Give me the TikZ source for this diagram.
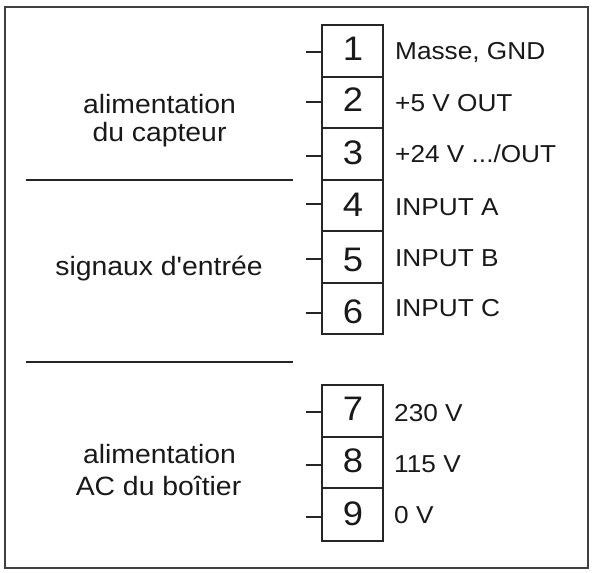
\documentclass[tikz,border=0pt]{standalone}
\usepackage{fontspec}
\newfontfamily\lab[FakeStretch=1.07]{Liberation Sans}
\begin{document}
\begin{tikzpicture}[x=1pt,y=-1pt,
  ln/.style={line width=2pt,draw=black!85},
  term/.style={ln,rectangle,minimum width=61pt,inner sep=0pt},
  num/.style={anchor=base,inner sep=0pt,font=\lab\fontsize{34}{36}\selectfont,text=black!90},
  pinlab/.style={anchor=base west,inner sep=0pt,font=\lab\fontsize{24.5}{28}\selectfont,text=black!90},
  grp/.style={anchor=base,inner sep=0pt,font=\lab\fontsize{26.5}{30}\selectfont,text=black!90}]
\useasboundingbox (0,0) rectangle (592,573);
% frame
\draw[line width=2pt,draw=black!75] (5,7) rectangle (588,568);
% terminal boxes
\node[term,minimum height=52pt] (t1) at (352.5,51) {};
\node[term,minimum height=51pt] (t2) at (352.5,102.5) {};
\node[term,minimum height=52pt] (t3) at (352.5,154) {};
\node[term,minimum height=51pt] (t4) at (352.5,205.5) {};
\node[term,minimum height=52pt] (t5) at (352.5,257) {};
\node[term,minimum height=51pt] (t6) at (352.5,308.5) {};
\node[term,minimum height=52pt] (t7) at (352.5,411) {};
\node[term,minimum height=51pt] (t8) at (352.5,462.5) {};
\node[term,minimum height=53pt] (t9) at (352.5,514.5) {};
% ticks
\draw[ln] ([yshift=-1pt]t1.west) -- ++(-15,0);
\draw[ln] ([yshift=0.5pt]t2.west) -- ++(-15,0);
\draw[ln] ([yshift=-2pt]t3.west) -- ++(-15,0);
\draw[ln] ([yshift=1.5pt]t4.west) -- ++(-15,0);
\draw[ln] ([yshift=-2pt]t5.west) -- ++(-15,0);
\draw[ln] ([yshift=-4.5pt]t6.west) -- ++(-15,0);
\draw[ln] ([yshift=-1pt]t7.west) -- ++(-15,0);
\draw[ln] ([yshift=-2.5pt]t8.west) -- ++(-15,0);
\draw[ln] ([yshift=-2.5pt]t9.west) -- ++(-15,0);
% numbers
\node[num] (n1) at (353,60) {1};
\node[num] (n2) at (353,111.7) {2};
\node[num] (n3) at (353,164) {3};
\node[num] (n4) at (353,216.7) {4};
\node[num] (n5) at (353,271.7) {5};
\node[num] (n6) at (353,323) {6};
\node[num] (n7) at (353,420.7) {7};
\node[num] (n8) at (353,472.7) {8};
\node[num] (n9) at (353,525) {9};
% pin labels
\node[pinlab] (l1) at (395,59.3) {Masse, GND};
\node[pinlab] (l2) at (395,111.7) {+5 V OUT};
\node[pinlab] (l3) at (395,162.7) {+24 V .../OUT};
\node[pinlab] (l4) at (395,215) {INPUT A};
\node[pinlab] (l5) at (395,266.7) {INPUT B};
\node[pinlab] (l6) at (395,316.7) {INPUT C};
\node[pinlab] (l7) at (394,421.7) {230 V};
\node[pinlab] (l8) at (394,472.7) {115 V};
\node[pinlab] (l9) at (394,523.3) {0 V};
% group labels
\node[grp] (g1a) at (159.5,113.3) {alimentation};
\node[grp] (g1b) at (159.5,141.7) {du capteur};
\node[grp] (g2) at (159,275) {signaux d'entrée};
\node[grp] (g3a) at (159.5,463.3) {alimentation};
\node[grp] (g3b) at (158.5,495) {AC du boîtier};
% separators
\coordinate (s1a) at (25.5,180);
\coordinate (s1b) at (292.5,180);
\coordinate (s2a) at (25.5,362);
\coordinate (s2b) at (292.5,362);
\draw[ln] (s1a) -- (s1b);
\draw[ln] (s2a) -- (s2b);
\end{tikzpicture}
\end{document}
